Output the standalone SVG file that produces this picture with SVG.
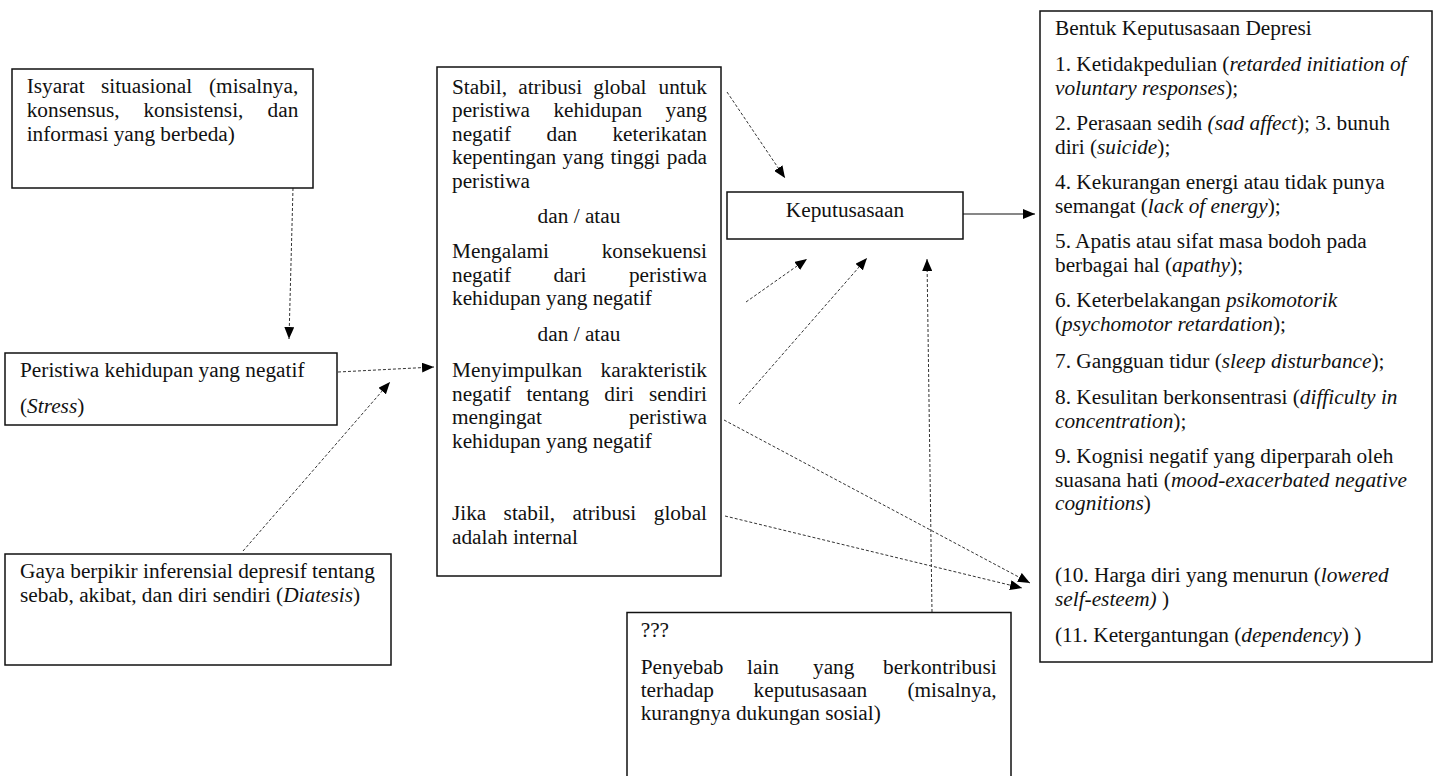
<svg xmlns="http://www.w3.org/2000/svg" width="1439" height="776" viewBox="0 0 1439 776">
<style>
  .box { fill: #fff; stroke: #111; stroke-width: 1.5; }
  text { font-family: "Liberation Serif", "Times New Roman", serif; font-size: 21.3px; fill: #111; }
  .i { font-style: italic; }
  .end { text-anchor: end; }
  .mid { text-anchor: middle; }
  .dash { fill: none; stroke: #333; stroke-width: 1; stroke-dasharray: 3 2; }
  .solid { fill: none; stroke: #111; stroke-width: 1.2; }
</style>
<defs>
  <marker id="arr" markerUnits="userSpaceOnUse" markerWidth="12" markerHeight="10" refX="12" refY="5" orient="auto">
    <path d="M0,0 L12,5 L0,10 z" fill="#000"/>
  </marker>
</defs>
<rect width="1439" height="776" fill="#fff"/>

<g id="connectors">
  <line class="dash" x1="293" y1="188" x2="289" y2="339" marker-end="url(#arr)"/>
  <line class="dash" x1="338" y1="372" x2="434" y2="367" marker-end="url(#arr)"/>
  <line class="dash" x1="243" y1="551" x2="390" y2="382" marker-end="url(#arr)"/>
  <line class="dash" x1="727" y1="92" x2="785" y2="178" marker-end="url(#arr)"/>
  <line class="dash" x1="746" y1="302" x2="807" y2="259" marker-end="url(#arr)"/>
  <line class="dash" x1="739" y1="404" x2="867" y2="258" marker-end="url(#arr)"/>
  <line class="dash" x1="932" y1="612" x2="927" y2="259" marker-end="url(#arr)"/>
  <line class="dash" x1="724" y1="420" x2="1030" y2="583" marker-end="url(#arr)"/>
  <line class="dash" x1="725" y1="516" x2="1022" y2="588" marker-end="url(#arr)"/>
  <line class="solid" x1="963" y1="214" x2="1035" y2="214" marker-end="url(#arr)"/>
</g>

<g id="isyarat">
  <rect class="box" x="12" y="69" width="301" height="119"/>
  <text y="93"><tspan x="26.7">Isyarat</tspan><tspan x="101">situasional</tspan><tspan x="298.3" class="end">(misalnya,</tspan></text>
  <text y="117"><tspan x="26.7">konsensus,</tspan><tspan x="143.4">konsistensi,</tspan><tspan x="298.3" class="end">dan</tspan></text>
  <text x="26.7" y="141">informasi yang berbeda)</text>
</g>

<g id="peristiwa">
  <rect class="box" x="5" y="353" width="332" height="72"/>
  <text x="20" y="377">Peristiwa kehidupan yang negatif</text>
  <text x="20" y="413">(<tspan class="i">Stress</tspan>)</text>
</g>

<g id="gaya">
  <rect class="box" x="5" y="554" width="386" height="111"/>
  <text x="20" y="578">Gaya berpikir inferensial depresif tentang</text>
  <text x="20" y="601.5">sebab, akibat, dan diri sendiri (<tspan class="i">Diatesis</tspan>)</text>
</g>

<g id="atribusi">
  <rect class="box" x="437" y="67" width="284" height="509"/>
  <text y="93.5"><tspan x="452">Stabil,</tspan><tspan x="518.2">atribusi</tspan><tspan x="593.3">global</tspan><tspan x="707" class="end">untuk</tspan></text>
  <text y="117"><tspan x="452">peristiwa</tspan><tspan x="553.4">kehidupan</tspan><tspan x="707" class="end">yang</tspan></text>
  <text y="140.5"><tspan x="452">negatif</tspan><tspan x="546.5">dan</tspan><tspan x="707" class="end">keterikatan</tspan></text>
  <text y="164"><tspan x="452">kepentingan</tspan><tspan x="562.6">yang</tspan><tspan x="610.5">tinggi</tspan><tspan x="707" class="end">pada</tspan></text>
  <text x="452" y="187.5">peristiwa</text>
  <text x="579" y="222.5" class="mid">dan / atau</text>
  <text y="258"><tspan x="452">Mengalami</tspan><tspan x="707" class="end">konsekuensi</tspan></text>
  <text y="281.5"><tspan x="452">negatif</tspan><tspan x="553.4">dari</tspan><tspan x="707" class="end">peristiwa</tspan></text>
  <text x="452" y="305">kehidupan yang negatif</text>
  <text x="579" y="340.5" class="mid">dan / atau</text>
  <text y="377"><tspan x="452">Menyimpulkan</tspan><tspan x="707" class="end">karakteristik</tspan></text>
  <text y="400.5"><tspan x="452">negatif</tspan><tspan x="526.4">tentang</tspan><tspan x="604.3">diri</tspan><tspan x="707" class="end">sendiri</tspan></text>
  <text y="424"><tspan x="452">mengingat</tspan><tspan x="707" class="end">peristiwa</tspan></text>
  <text x="452" y="447.5">kehidupan yang negatif</text>
  <text y="520"><tspan x="452">Jika</tspan><tspan x="503.6">stabil,</tspan><tspan x="572.4">atribusi</tspan><tspan x="707" class="end">global</tspan></text>
  <text x="452" y="543.5">adalah internal</text>
</g>

<g id="keputusasaan">
  <rect class="box" x="727" y="192" width="236" height="47"/>
  <text x="845" y="217" class="mid">Keputusasaan</text>
</g>

<g id="bentuk">
  <rect class="box" x="1040" y="11" width="392" height="651"/>
  <text x="1055" y="34.5">Bentuk Keputusasaan Depresi</text>
  <text x="1055" y="71">1. Ketidakpedulian (<tspan class="i">retarded initiation of</tspan></text>
  <text x="1055" y="94.5"><tspan class="i">voluntary responses</tspan>);</text>
  <text x="1055" y="130">2. Perasaan sedih <tspan class="i">(sad affect</tspan>); 3. bunuh</text>
  <text x="1055" y="153.5">diri (<tspan class="i">suicide</tspan>);</text>
  <text x="1055" y="189">4. Kekurangan energi atau tidak punya</text>
  <text x="1055" y="212.5">semangat (<tspan class="i">lack of energy</tspan>);</text>
  <text x="1055" y="248">5. Apatis atau sifat masa bodoh pada</text>
  <text x="1055" y="271.5">berbagai hal (<tspan class="i">apathy</tspan>);</text>
  <text x="1055" y="307">6. Keterbelakangan <tspan class="i">psikomotorik</tspan></text>
  <text x="1055" y="330.5">(<tspan class="i">psychomotor retardation</tspan>);</text>
  <text x="1055" y="368">7. Gangguan tidur (<tspan class="i">sleep disturbance</tspan>);</text>
  <text x="1055" y="404">8. Kesulitan berkonsentrasi (<tspan class="i">difficulty in</tspan></text>
  <text x="1055" y="427.5"><tspan class="i">concentration</tspan>);</text>
  <text x="1055" y="463">9. Kognisi negatif yang diperparah oleh</text>
  <text x="1055" y="486.5">suasana hati (<tspan class="i">mood-exacerbated negative</tspan></text>
  <text x="1055" y="510"><tspan class="i">cognitions</tspan>)</text>
  <text x="1055" y="581.5">(10. Harga diri yang menurun (<tspan class="i">lowered</tspan></text>
  <text x="1055" y="605.5"><tspan class="i">self-esteem)</tspan> )</text>
  <text x="1055" y="642">(11. Ketergantungan (<tspan class="i">dependency</tspan>) )</text>
</g>

<g id="penyebab-lain">
  <rect class="box" x="627" y="612.5" width="384" height="200"/>
  <text x="640.7" y="636.5">???</text>
  <text y="673.5"><tspan x="640.7">Penyebab</tspan><tspan x="747">lain</tspan><tspan x="813">yang</tspan><tspan x="996.7" class="end">berkontribusi</tspan></text>
  <text y="697"><tspan x="640.7">terhadap</tspan><tspan x="753.6">keputusasaan</tspan><tspan x="996.7" class="end">(misalnya,</tspan></text>
  <text x="640.7" y="720">kurangnya dukungan sosial)</text>
</g>
</svg>
